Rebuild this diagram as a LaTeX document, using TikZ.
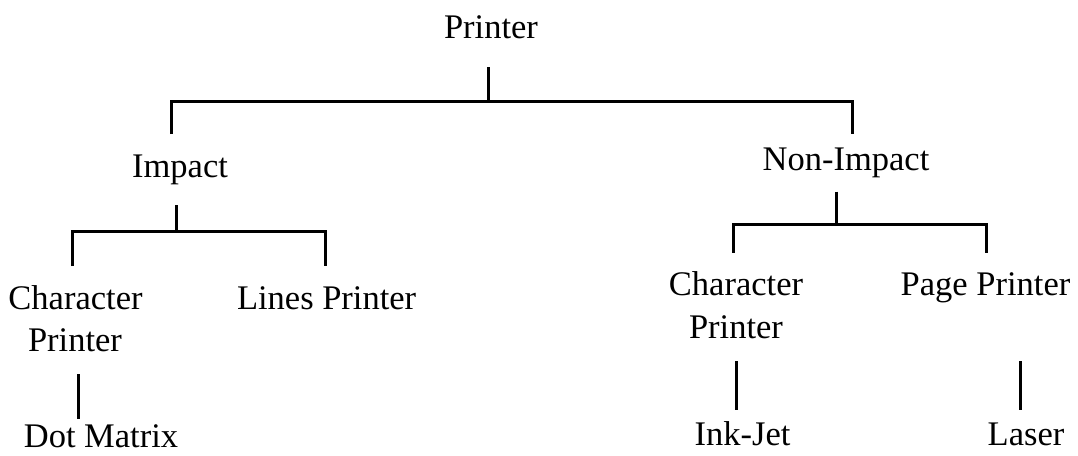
\documentclass[tikz,border=0pt]{standalone}
\usepackage{fontspec}
\setmainfont{Liberation Serif}
\begin{document}
\begin{tikzpicture}[x=1pt,y=-1pt,
  lbl/.style={anchor=base,inner sep=0pt,font=\fontsize{34.5}{42}\selectfont,align=center},
  conn/.style={line width=3pt,line join=miter,line cap=butt}]
\useasboundingbox (0,0) rectangle (1078,455);
% labels
\node[lbl] (printer) at (491,38.5) {Printer};
\node[lbl] (impact) at (180,177) {Impact};
\node[lbl] (nonimpact) at (846,170.5) {Non-Impact};
\node[lbl] (charL) at (75.5,309) {Character};
\node[lbl] (charLb) at (75,351) {Printer};
\node[lbl] (lines) at (326.6,309) {Lines Printer};
\node[lbl,text depth=0pt] (dot) at (101,447.5) {Dot Matrix};
\node[lbl] (charR) at (736,295.6) {Character};
\node[lbl] (charRb) at (736,338) {Printer};
\node[lbl] (page) at (985.5,295.6) {Page Printer};
\node[lbl] (ink) at (742.5,445) {Ink-Jet};
\node[lbl] (laser) at (1026,445) {Laser};
% connector end points
\coordinate (p-s) at (488,67);
\coordinate (p-j) at (488,101);
\coordinate (imp-n) at (171,134);
\coordinate (non-n) at (852,134);
\coordinate (imp-s) at (176,205);
\coordinate (imp-j) at (176,231);
\coordinate (charL-n) at (72,266);
\coordinate (lines-n) at (325,266);
\coordinate (charL-s) at (78.5,374);
\coordinate (dot-n) at (78.5,419);
\coordinate (non-s) at (836,191.5);
\coordinate (non-j) at (836,224.5);
\coordinate (charR-n) at (733,252.5);
\coordinate (page-n) at (986,252.5);
\coordinate (charR-s) at (736.7,361);
\coordinate (ink-n) at (736.7,410);
\coordinate (page-s) at (1020,361);
\coordinate (laser-n) at (1020,410);
% connectors
\draw[conn] (p-s) -- (p-j);
\draw[conn] (imp-n) |- (p-j) -| (non-n);
\draw[conn] (imp-s) -- (imp-j);
\draw[conn] (charL-n) |- (imp-j) -| (lines-n);
\draw[conn] (charL-s) -- (dot-n);
\draw[conn] (non-s) -- (non-j);
\draw[conn] (charR-n) |- (non-j) -| (page-n);
\draw[conn] (charR-s) -- (ink-n);
\draw[conn] (page-s) -- (laser-n);
\end{tikzpicture}
\end{document}
